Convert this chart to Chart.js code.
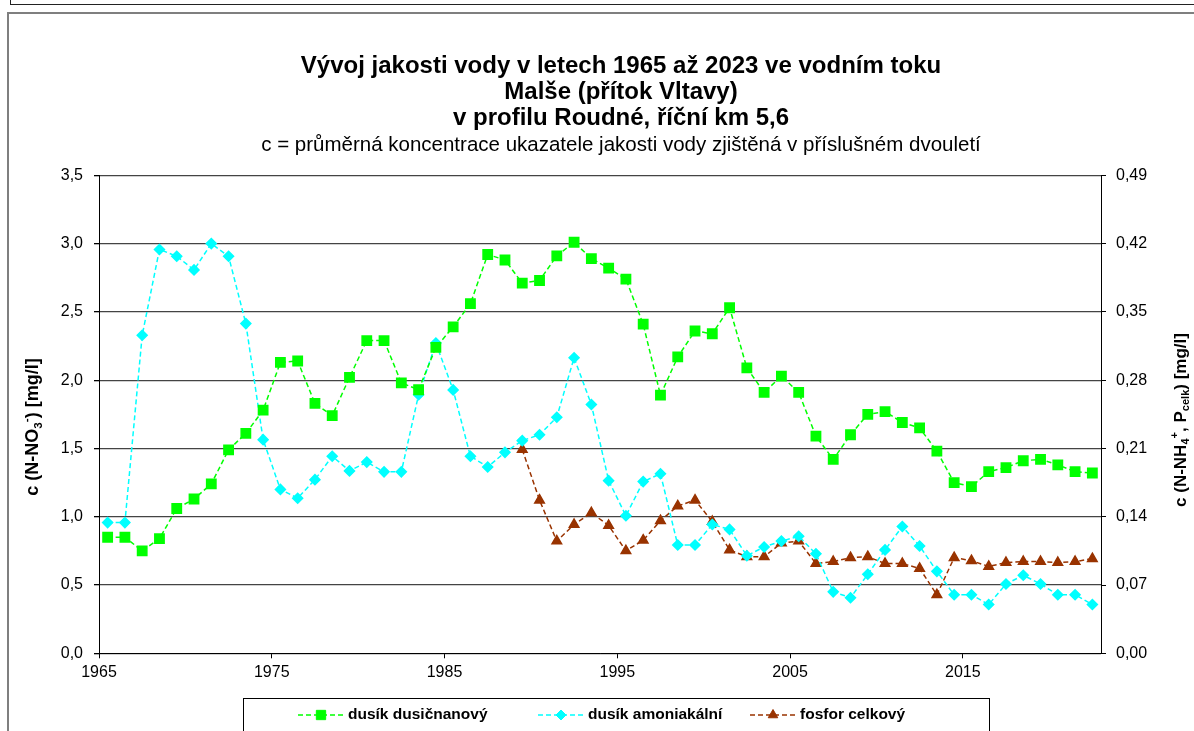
<!DOCTYPE html>
<html lang="cs">
<head>
<meta charset="utf-8">
<title>Malše - Roudné</title>
<script src="https://cdn.jsdelivr.net/npm/chart.js@4.4.1/dist/chart.umd.min.js"></script>
<style>
  html, body { margin: 0; padding: 0; background: #fff; overflow: hidden; }
  #ramecek-horni { position: absolute; left: 10px; top: -20px; width: 1300px; height: 23px; border: 1px solid #222; }
  #ramecek { position: absolute; left: 7px; top: 12px; width: 1300px; height: 800px; border: 2px solid #7f7f7f; }
  #graf { position: absolute; left: 0; top: 0; }
</style>
</head>
<body>
<div id="ramecek-horni"></div>
<div id="ramecek"></div>
<canvas id="graf" width="1194" height="731"></canvas>
<script>
// dvouletí (počáteční rok), bod leží uprostřed období
var roky = [
  1965, 1966, 1967, 1968, 1969, 1970, 1971, 1972, 1973, 1974,
  1975, 1976, 1977, 1978, 1979, 1980, 1981, 1982, 1983, 1984,
  1985, 1986, 1987, 1988, 1989, 1990, 1991, 1992, 1993, 1994,
  1995, 1996, 1997, 1998, 1999, 2000, 2001, 2002, 2003, 2004,
  2005, 2006, 2007, 2008, 2009, 2010, 2011, 2012, 2013, 2014,
  2015, 2016, 2017, 2018, 2019, 2020, 2021, 2022
];

// N-NO3 [mg/l] - levá osa
var dusicnany = [
  0.85, 0.85, 0.75, 0.84, 1.06, 1.13, 1.24, 1.49, 1.61, 1.78,
  2.13, 2.14, 1.83, 1.74, 2.02, 2.29, 2.29, 1.98, 1.93, 2.24,
  2.39, 2.56, 2.92, 2.88, 2.71, 2.73, 2.91, 3.01, 2.89, 2.82,
  2.74, 2.41, 1.89, 2.17, 2.36, 2.34, 2.53, 2.09, 1.91, 2.03,
  1.91, 1.59, 1.42, 1.60, 1.75, 1.77, 1.69, 1.65, 1.48, 1.25,
  1.22, 1.33, 1.36, 1.41, 1.42, 1.38, 1.33, 1.32
];

// N-NH4 [mg/l] - pravá osa
var amonium = [
  0.134, 0.134, 0.326, 0.414, 0.407, 0.393, 0.420, 0.407, 0.338, 0.219,
  0.168, 0.159, 0.178, 0.202, 0.187, 0.196, 0.186, 0.186, 0.265, 0.318,
  0.270, 0.202, 0.191, 0.206, 0.218, 0.224, 0.242, 0.303, 0.255, 0.177,
  0.141, 0.176, 0.184, 0.111, 0.111, 0.132, 0.127, 0.100, 0.109, 0.115,
  0.120, 0.102, 0.063, 0.057, 0.081, 0.106, 0.130, 0.110, 0.084, 0.060,
  0.060, 0.050, 0.071, 0.080, 0.071, 0.060, 0.060, 0.050
];

// P celk [mg/l] - pravá osa, měří se až od 1989
var fosfor = [
  null, null, null, null, null, null, null, null, null, null,
  null, null, null, null, null, null, null, null, null, null,
  null, null, null, null, 0.209, 0.157, 0.115, 0.132, 0.144, 0.131,
  0.105, 0.116, 0.136, 0.151, 0.157, 0.135, 0.106, 0.099, 0.099, 0.113,
  0.115, 0.092, 0.094, 0.098, 0.099, 0.092, 0.092, 0.087, 0.060, 0.098,
  0.095, 0.089, 0.093, 0.094, 0.094, 0.093, 0.094, 0.097
];

var rokyOsa = [1965, 1975, 1985, 1995, 2005, 2015];
var nazvy = ["dusík dusičnanový", "dusík amoniakální", "fosfor celkový"];

var pismo = "'Liberation Sans', Arial, sans-serif";
Chart.defaults.font.family = pismo;
Chart.defaults.color = "#000";

function body(hodnoty) {
  return roky.map(function (rok, i) {
    return { x: rok + 0.5, y: hodnoty[i] };
  });
}

// popisky os s indexy
var popisekLevy = [["c (N-NO", 0], ["3", 1], ["-", -1], [") [mg/l]", 0]];
var popisekPravy = [["c (N-NH", 0], ["4", 1], ["+", -1], [", P", 0], ["celk", 1], [") [mg/l]", 0]];

function sirkaTextu(ctx, casti, vel) {
  var w = 0;
  casti.forEach(function (c) {
    ctx.font = "bold " + (c[1] ? vel * 0.65 : vel) + "px " + pismo;
    w += ctx.measureText(c[0]).width;
  });
  return w;
}

function kresliPopisek(ctx, casti, x, y, vel) {
  ctx.save();
  ctx.translate(x, y);
  ctx.rotate(-Math.PI / 2);
  ctx.fillStyle = "#000";
  ctx.textBaseline = "middle";
  ctx.textAlign = "left";
  var pos = -sirkaTextu(ctx, casti, vel) / 2;
  casti.forEach(function (c) {
    ctx.font = "bold " + (c[1] ? vel * 0.65 : vel) + "px " + pismo;
    var dy = c[1] === 1 ? vel * 0.3 : (c[1] === -1 ? -vel * 0.35 : 0);
    ctx.fillText(c[0], pos, dy);
    pos += ctx.measureText(c[0]).width;
  });
  ctx.restore();
}

var legendaX = [298, 538, 750];

var popiskyALegenda = {
  id: "popiskyALegenda",
  afterDraw: function (chart) {
    var ctx = chart.ctx;
    kresliPopisek(ctx, popisekLevy, 33, 427, 18);
    kresliPopisek(ctx, popisekPravy, 1181, 420, 17);

    // legenda v rámečku
    ctx.save();
    ctx.strokeStyle = "#000";
    ctx.lineWidth = 1;
    ctx.strokeRect(243.5, 698.5, 746, 60);
    chart.data.datasets.forEach(function (ds, i) {
      var x0 = legendaX[i];
      var y = 715;
      ctx.setLineDash(ds.borderDash);
      ctx.strokeStyle = ds.borderColor;
      ctx.lineWidth = ds.borderWidth;
      ctx.beginPath();
      ctx.moveTo(x0, y);
      ctx.lineTo(x0 + 46, y);
      ctx.stroke();
      ctx.setLineDash([]);
      ctx.fillStyle = ds.pointBackgroundColor;
      ctx.strokeStyle = ds.pointBorderColor;
      ctx.lineWidth = 1;
      Chart.helpers.drawPoint(ctx, { pointStyle: ds.pointStyle, radius: ds.pointRadius, borderWidth: 1, rotation: 0 }, x0 + 23, y);
      ctx.fillStyle = "#000";
      ctx.font = "bold 15.5px " + pismo;
      ctx.textBaseline = "middle";
      ctx.textAlign = "left";
      ctx.fillText(ds.label, x0 + 50, y);
    });
    ctx.restore();
  }
};

var ctx = document.getElementById("graf");
var graf = new Chart(ctx, {
  type: "line",
  data: {
    datasets: [
      {
        label: nazvy[0],
        data: body(dusicnany),
        yAxisID: "y",
        borderColor: "#00FF00",
        backgroundColor: "#00FF00",
        pointBackgroundColor: "#00FF00",
        pointBorderColor: "#00FF00",
        borderWidth: 1.5,
        borderDash: [5, 3],
        pointStyle: "rect",
        pointRadius: 6.6,
        tension: 0
      },
      {
        label: nazvy[1],
        data: body(amonium),
        yAxisID: "y2",
        borderColor: "#00FFFF",
        backgroundColor: "#00FFFF",
        pointBackgroundColor: "#00FFFF",
        pointBorderColor: "#00FFFF",
        borderWidth: 1.5,
        borderDash: [5, 3],
        pointStyle: "rectRot",
        pointRadius: 5,
        tension: 0
      },
      {
        label: nazvy[2],
        data: body(fosfor),
        yAxisID: "y2",
        borderColor: "#993300",
        backgroundColor: "#993300",
        pointBackgroundColor: "#993300",
        pointBorderColor: "#993300",
        borderWidth: 1.5,
        borderDash: [5, 3],
        pointStyle: "triangle",
        pointRadius: 5.5,
        tension: 0
      }
    ]
  },
  options: {
    responsive: false,
    animation: false,
    layout: { padding: { left: 48, right: 0, top: 0, bottom: 43.5 } },
    plugins: {
      legend: { display: false },
      tooltip: { enabled: false },
      title: {
        display: true,
        text: [
          "Vývoj jakosti vody v letech 1965 až 2023 ve vodním toku",
          "Malše (přítok Vltavy)",
          "v profilu Roudné, říční km 5,6"
        ],
        color: "#000",
        font: { size: 24, weight: "bold", lineHeight: "26px" },
        padding: { top: 53, bottom: 2 }
      },
      subtitle: {
        display: true,
        text: "c = průměrná koncentrace ukazatele jakosti vody zjištěná v příslušném dvouletí",
        color: "#000",
        font: { size: 20.5, weight: "normal", lineHeight: "24px" },
        padding: { top: 0, bottom: 18.3 }
      }
    },
    scales: {
      x: {
        type: "linear",
        min: 1965,
        max: 2023,
        afterBuildTicks: function (osa) {
          osa.ticks = rokyOsa.map(function (r) { return { value: r }; });
        },
        ticks: {
          font: { size: 16 },
          padding: 5,
          maxRotation: 0,
          autoSkip: false,
          callback: function (v) { return String(v); }
        },
        grid: { drawOnChartArea: false, drawTicks: true, tickLength: 5, color: "#000" },
        border: { display: true, color: "#000", width: 1 }
      },
      y: {
        position: "left",
        min: 0,
        max: 3.5,
        afterFit: function (osa) { osa.width = 51; },
        ticks: {
          stepSize: 0.5,
          font: { size: 16 },
          padding: 11,
          callback: function (v) { return v.toFixed(1).replace(".", ","); }
        },
        grid: { color: "#444", lineWidth: 1.3, drawTicks: true, tickLength: 5, tickColor: "#000" },
        border: { display: true, color: "#000", width: 1 }
      },
      y2: {
        position: "right",
        min: 0,
        max: 0.49,
        afterFit: function (osa) { osa.width = 93; },
        ticks: {
          stepSize: 0.07,
          font: { size: 16 },
          padding: 10,
          callback: function (v) { return v.toFixed(2).replace(".", ","); }
        },
        grid: { drawOnChartArea: false, drawTicks: true, tickLength: 5, color: "#000" },
        border: { display: true, color: "#000", width: 1 }
      }
    }
  },
  plugins: [popiskyALegenda]
});
</script>
</body>
</html>
